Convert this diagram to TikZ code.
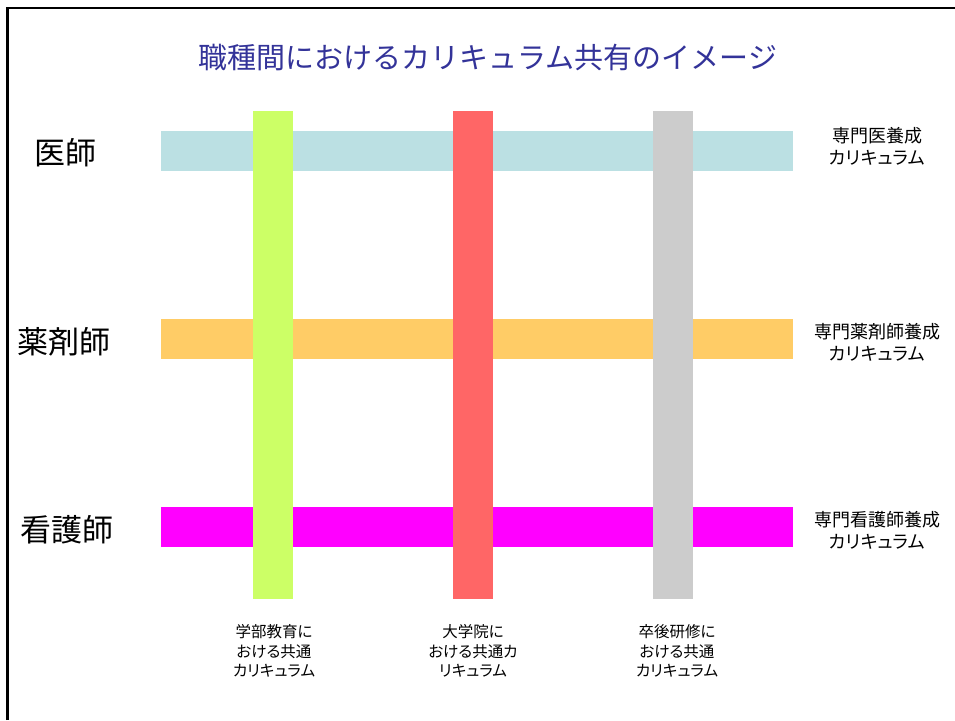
\documentclass[tikz,border=0pt]{standalone}
\usepackage{fontspec}
\setmainfont{Noto Sans CJK JP}
\newfontfamily\jp{Noto Sans CJK JP}
\newfontfamily\jpp[RawFeature=+palt]{Noto Sans CJK JP}
\definecolor{cdoc}{HTML}{BBE0E3}
\definecolor{cpha}{HTML}{FFCC66}
\definecolor{cnur}{HTML}{FF00FF}
\definecolor{cund}{HTML}{CCFF66}
\definecolor{cgrd}{HTML}{FF6666}
\definecolor{cpost}{HTML}{CCCCCC}
\definecolor{ctitle}{HTML}{333399}
\tikzset{
  hbar/.style={rectangle, draw=none, minimum width=632pt, minimum height=40pt, inner sep=0pt},
  vbar/.style={rectangle, draw=none, minimum width=40pt, minimum height=488pt, inner sep=0pt},
  role/.style={inner sep=0pt, font=\jp\fontsize{31}{36}\selectfont},
  rlabel/.style={inner sep=0pt, align=center, font=\jpp\fontsize{18}{22}\selectfont},
  blabel/.style={inner sep=0pt, align=center, font=\jpp\fontsize{15.5}{19.5}\selectfont},
}
\begin{document}
\begin{tikzpicture}[x=1pt,y=-1pt]
\useasboundingbox (0,0) rectangle (955,720);
\fill[white] (0,0) rectangle (955,720);
\coordinate (bl) at (7.5,720);
\coordinate (tl) at (7.5,8);
\coordinate (tr) at (955,8);
\draw[line width=2.5pt] (bl) -- (tl) -- (tr);

\node[inner sep=0pt, text=ctitle, font=\jp\fontsize{29}{34}\selectfont] (title) at (488,57) {職種間におけるカリキュラム共有のイメージ};

% horizontal bars
\node[hbar, fill=cdoc] (hdoc) at (477,151) {};
\node[hbar, fill=cpha] (hpha) at (477,339) {};
\node[hbar, fill=cnur] (hnur) at (477,527) {};
% vertical bars
\node[vbar, fill=cund] (vund) at (273,355) {};
\node[vbar, fill=cgrd] (vgrd) at (473,355) {};
\node[vbar, fill=cpost] (vpost) at (673,355) {};

% role labels
\node[role] (ldoc) at (65,153) {医師};
\node[role] (lpha) at (64,342) {薬剤師};
\node[role] (lnur) at (67,530) {看護師};

% right labels
\node[rlabel] (rdoc) at (877,146) {専門医養成\\カリキュラム};
\node[rlabel] (rpha) at (877,342) {専門薬剤師養成\\カリキュラム};
\node[rlabel] (rnur) at (877,530) {専門看護師養成\\カリキュラム};

% bottom labels
\node[blabel] (bund) at (274,651) {学部教育に\\おける共通\\カリキュラム};
\node[blabel] (bgrd) at (473,651) {大学院に\\おける共通カ\\リキュラム};
\node[blabel] (bpost) at (677,651) {卒後研修に\\おける共通\\カリキュラム};
\end{tikzpicture}
\end{document}
